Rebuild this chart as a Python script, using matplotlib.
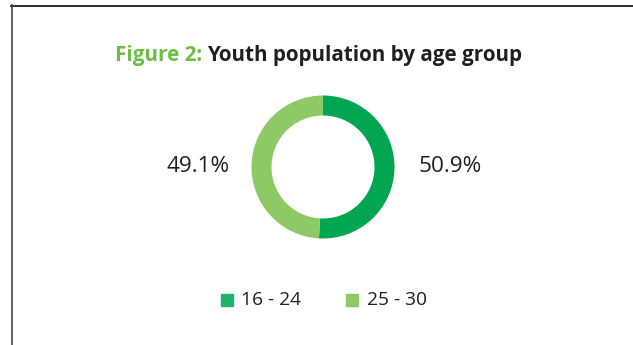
import matplotlib
matplotlib.use("Agg")
import matplotlib.pyplot as plt
from matplotlib.lines import Line2D
from matplotlib.patches import Rectangle

# Data
groups = ["16 - 24", "25 - 30"]
shares = [50.9, 49.1]
slice_colors = ["#00A651", "#8DC965"]
legend_colors = ["#1FB36B", "#8DC965"]

W, H = 633, 345
fig = plt.figure(figsize=(W / 100, H / 100), dpi=100)
plt.rcParams["font.family"] = ["Open Sans", "DejaVu Sans"]

def fx(px):
    return px / W

def fy(py):
    return 1 - py / H

# Frame (top and left border)
fig.add_artist(Line2D([fx(11), fx(633)], [fy(5.5), fy(5.5)], color="#2b2b2b", lw=1.4,
                      transform=fig.transFigure))
fig.add_artist(Line2D([fx(12), fx(12)], [fy(5), fy(345)], color="#444444", lw=1.2,
                      transform=fig.transFigure))

# Donut
cx, cy, r = 323, 167, 71.5
ax = fig.add_axes([fx(cx - r), fy(cy + r), 2 * r / W, 2 * r / H])
ax.pie(shares, colors=slice_colors, startangle=90, counterclock=False, radius=1,
       wedgeprops=dict(width=20 / 71.5, edgecolor="none"))
ax.set_xlim(-1, 1)
ax.set_ylim(-1, 1)
ax.set_aspect("equal")
ax.axis("off")

# Percentage labels
fig.text(fx(198), fy(167), f"{shares[1]:.1f}%", ha="center", va="center", fontsize=16.2,
         color="#231F20")
fig.text(fx(450), fy(167), f"{shares[0]:.1f}%", ha="center", va="center", fontsize=16.2,
         color="#231F20")

# Title in two colours
fig.canvas.draw()
renderer = fig.canvas.get_renderer()
t1 = fig.text(fx(115), fy(56), "Figure 2:", ha="left", va="center", fontsize=14.9,
              fontweight="bold", color="#6DBE45")
bb = t1.get_window_extent(renderer=renderer)
fig.text(bb.x1 / W + fx(5), fy(56), "Youth population by age group", ha="left",
         va="center", fontsize=14.9, fontweight="bold", color="#231F20")

# Legend
legend_items = [(221, 241), (346, 367)]
for (sx, tx), label, col in zip(legend_items, groups, legend_colors):
    fig.add_artist(Rectangle((fx(sx), fy(306)), 12 / W, 12 / H, color=col,
                             transform=fig.transFigure))
    fig.text(fx(tx), fy(300), label, ha="left", va="center", fontsize=13.8, color="#231F20")

fig.savefig("out.png", dpi=100)
